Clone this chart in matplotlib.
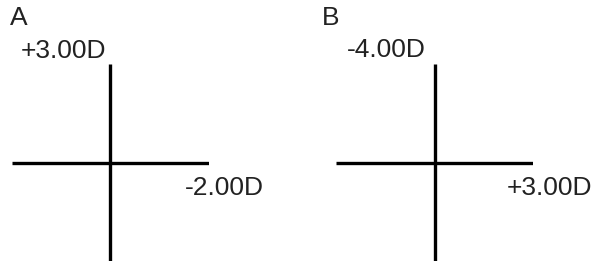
import matplotlib
matplotlib.use("Agg")
import matplotlib.pyplot as plt

# panel data: letter, label on vertical arm, label on horizontal arm
panels = ["A", "B"]
vertical_powers = ["+3.00D", "-4.00D"]
horizontal_powers = ["-2.00D", "+3.00D"]

W, H = 596, 266
plt.rcParams["font.family"] = ["Liberation Sans", "DejaVu Sans"]

fig = plt.figure(figsize=(W / 100, H / 100), dpi=100)

# axes boxes in pixels (left, top, size)
boxes = [(12, 64, 197), (336, 64, 197)]
# text anchors in pixels (left x, baseline y)
letter_pos = [(10, 25), (322, 25)]
vert_pos = [(21, 58), (347, 57)]
horiz_pos = [(185, 195), (507, 195)]


def px(x, y):
    return x / W, 1 - y / H


for i, name in enumerate(panels):
    left, top, size = boxes[i]
    ax = fig.add_axes([left / W, 1 - (top + size) / H, size / W, size / H])
    ax.plot([-1, 1], [0, 0], color="black", lw=2.4, solid_capstyle="butt")
    ax.plot([0, 0], [-1, 1], color="black", lw=2.4, solid_capstyle="butt")
    ax.set_xlim(-1, 1)
    ax.set_ylim(-1, 1)
    ax.axis("off")

    fig.text(*px(*letter_pos[i]), name, fontsize=19, color="#222222", va="baseline")
    fig.text(*px(*vert_pos[i]), vertical_powers[i], fontsize=19, color="#222222", va="baseline")
    fig.text(*px(*horiz_pos[i]), horizontal_powers[i], fontsize=19, color="#222222", va="baseline")

fig.savefig("out.png", dpi=100)
